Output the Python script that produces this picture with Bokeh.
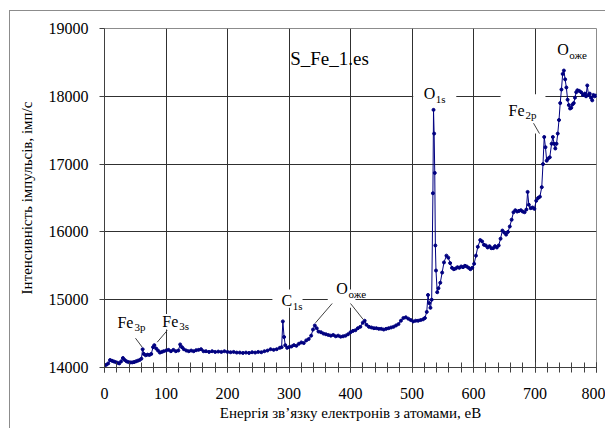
from bokeh.plotting import figure
from bokeh.models import Label, Arrow, BoxAnnotation, FixedTicker, Range1d
from bokeh.embed import file_html
from bokeh.resources import INLINE

# ---- data ----
energy = [0, 3, 6, 9, 12, 15, 18, 21, 24, 27, 30, 33, 36, 39, 42, 45, 48, 51, 54, 57,
          60, 62, 64, 67, 70, 73, 76, 79, 81, 84, 87, 90, 93, 96, 100, 104, 108, 112, 116, 120,
          123, 126, 129, 133, 137, 141, 145, 149, 153, 157, 161, 165, 170, 175, 180, 185, 190, 195, 200, 205,
          210, 215, 220, 225, 230, 235, 240, 245, 250, 255, 260, 265, 270, 275, 280, 285, 288, 290, 292, 294,
          297, 300, 304, 308, 312, 316, 320, 324, 328, 332, 336, 339, 342, 345, 348, 352, 356, 360, 364, 368,
          372, 376, 380, 384, 388, 392, 396, 400, 404, 408, 412, 416, 420, 423, 426, 430, 434, 438, 442, 446,
          450, 454, 458, 462, 466, 470, 474, 478, 482, 486, 490, 494, 498, 502, 506, 510, 514, 518, 521, 524,
          526, 528, 530, 532, 534, 535, 536, 537, 538, 539, 541, 543, 546, 549, 552, 556, 559, 562, 565, 568,
          571, 574, 577, 580, 583, 586, 589, 592, 595, 598, 601, 604, 607, 611, 614, 617, 620, 623, 626, 629,
          632, 635, 638, 641, 644, 647, 650, 653, 656, 659, 662, 665, 668, 671, 674, 677, 680, 683, 686, 688,
          690, 693, 696, 699, 702, 705, 708, 711, 713, 715, 717, 719, 721, 724, 727, 729, 731, 733, 735, 737,
          739, 741, 743, 745, 747, 749, 751, 753, 755, 757, 759, 761, 763, 765, 767, 769, 772, 775, 778, 781,
          783, 785, 787, 789, 791, 793, 795, 797, 799]
counts = [14030, 14040, 14060, 14110, 14100, 14090, 14080, 14070, 14060, 14090, 14140, 14110, 14090, 14080, 14075, 14075, 14080, 14090, 14100, 14110,
          14130, 14270, 14200, 14180, 14190, 14185, 14200, 14300, 14330, 14280, 14250, 14220, 14230, 14240, 14250, 14260, 14240, 14260, 14240, 14250,
          14340, 14300, 14270, 14250, 14240, 14250, 14240, 14255, 14260, 14270, 14240, 14240, 14230, 14240, 14230, 14235, 14230, 14240, 14230, 14225,
          14230, 14220, 14220, 14215, 14220, 14215, 14225, 14220, 14230, 14225, 14240, 14250, 14270, 14260, 14270, 14290, 14300, 14680, 14450, 14330,
          14290, 14300, 14310, 14330, 14320, 14350, 14370, 14360, 14400, 14420, 14470, 14560, 14620, 14580, 14530, 14520, 14500, 14490, 14480, 14470,
          14480, 14460, 14470, 14455, 14460, 14470, 14490, 14520, 14540, 14550, 14580, 14600, 14660, 14690, 14630, 14600, 14590, 14580, 14580, 14570,
          14570, 14560, 14570, 14580, 14590, 14600, 14620, 14640, 14690, 14730, 14740, 14720, 14700, 14680, 14690, 14690, 14700, 14710, 14730, 14820,
          15070, 14950, 14880, 15000, 16570, 17800, 17450, 16870, 15800, 15430, 15110, 15170, 15250, 15400, 15550, 15650, 15620, 15540, 15470, 15450,
          15460, 15480, 15470, 15490, 15480, 15500, 15490, 15470, 15450, 15470, 15530, 15650, 15780, 15880, 15860, 15810, 15800, 15770, 15790, 15760,
          15760, 15790, 15770, 15800, 15900, 16020, 15990, 15960, 16000, 16080, 16180, 16290, 16320, 16300, 16310, 16320, 16300, 16290, 16330, 16590,
          16400, 16350, 16360, 16340, 16460, 16500, 16520, 16660, 17000, 17400, 17250, 17050, 17080, 17100, 17300, 17400, 17300, 17230, 17300, 17450,
          17650, 17900, 18100, 18330, 18380, 18250, 18130, 17950, 17870, 17820, 17830, 17880, 17900, 17980, 18060, 18090, 18080, 18060, 18020, 18040,
          18000, 18160, 18020, 18040, 17980, 17940, 18020, 18000, 18010]

x_ticks = [0, 100, 200, 300, 400, 500, 600, 700, 800]
x_minor_ticks = list(range(0, 801, 20))
y_ticks = [14000, 15000, 16000, 17000, 18000, 19000]

title_text = "S_Fe_1.es"
x_label = "Енергія зв’язку електронів з атомами, еВ"
y_label = "Інтенсивність імпульсів, імп/с"

# peak labels: main text, subscript, data anchor of the main text's left edge
peak_labels = [("O", "1s", 519, 18040), ("Fe", "2p", 657, 17791), ("O", "оже", 736, 18690),
               ("C", "1s", 288, 14988), ("O", "оже", 377, 15165),
               ("Fe", "3p", 21, 14668), ("Fe", "3s", 94, 14683)]

SERIF = "Liberation Serif"
NAVY = "#000080"

p = figure(width=596, height=418, x_range=Range1d(0, 800), y_range=Range1d(14000, 19000),
           output_backend="svg", toolbar_location=None,
           min_border_left=94, min_border_right=10, min_border_top=17, min_border_bottom=62)
p.styles = {"margin-left": "9px", "margin-top": "10px",
            "border-left": "1px solid #8c8c8c", "border-top": "1px solid #8c8c8c"}
p.background_fill_color = "white"
p.border_fill_color = "white"
p.outline_line_color = "#8c8c8c"

# axes
p.xaxis.ticker = FixedTicker(ticks=x_ticks, minor_ticks=x_minor_ticks)
p.yaxis.ticker = FixedTicker(ticks=y_ticks, minor_ticks=[])
for ax in (p.xaxis[0], p.yaxis[0]):
    ax.axis_line_color = "#404040"
    ax.major_tick_line_color = "#404040"
    ax.minor_tick_line_color = "#404040"
    ax.major_label_text_font = SERIF
    ax.major_label_text_font_size = "16px"
    ax.major_label_text_color = "black"
    ax.axis_label_text_font = SERIF
    ax.axis_label_text_font_size = "15px"
    ax.axis_label_text_font_style = "normal"
    ax.axis_label_text_color = "black"
p.xaxis.major_tick_in = 5
p.xaxis.major_tick_out = 5
p.xaxis.minor_tick_in = 5
p.xaxis.minor_tick_out = 5
p.xaxis.major_label_standoff = 15
p.xaxis.axis_label = x_label
p.xaxis.axis_label_standoff = 3
p.yaxis.major_tick_in = 0
p.yaxis.major_tick_out = 5
p.yaxis.minor_tick_in = 0
p.yaxis.minor_tick_out = 0
p.yaxis.major_label_standoff = 11
p.yaxis.axis_label = y_label
p.yaxis.axis_label_standoff = 11

p.xgrid.grid_line_color = "#303030"
p.ygrid.grid_line_color = "#303030"
p.xgrid.grid_line_width = 1
p.ygrid.grid_line_width = 1

# white boxes where the labels interrupt the grid
for l, r, b, t in [(502, 572, 17850, 18150), (644, 717, 17450, 18030),
                   (273, 322, 14880, 15150), (363, 408, 14880, 15150),
                   (15, 50, 14560, 14760), (90, 128, 14560, 14790)]:
    p.add_layout(BoxAnnotation(left=l, right=r, bottom=b, top=t, fill_color="white",
                               fill_alpha=1, line_color=None, level="underlay"))

p.line(energy, counts, line_color=NAVY, line_width=1)
p.scatter(energy, counts, marker="circle", size=3, color=NAVY)

p.add_layout(Label(x=302, y=18558, text=title_text, text_font=SERIF, text_font_size="19px",
                   text_baseline="middle", text_align="left", text_color="black"))

main_width = {"O": 11.6, "C": 10.7, "Fe": 16.5}
for main, sub, x, y in peak_labels:
    p.add_layout(Label(x=x, y=y, text=main, text_font=SERIF, text_font_size="16px",
                       text_baseline="middle", text_align="left", text_color="black"))
    p.add_layout(Label(x=x, y=y, x_offset=main_width[main] + 0.5, y_offset=-5, text=sub,
                       text_font=SERIF, text_font_size="11px",
                       text_baseline="middle", text_align="left", text_color="black"))

for xs, ys, xe, ye in [(697.6, 17603, 707.3, 17450), (370.2, 14944, 343.1, 14659),
                       (400, 14944, 420.7, 14708), (50.4, 14432, 61.3, 14300),
                       (102, 14546, 85.7, 14373)]:
    p.add_layout(Arrow(end=None, start=None, x_start=xs, y_start=ys, x_end=xe, y_end=ye,
                       line_color="#404040", line_width=1))

open("out.html", "w").write(file_html(p, INLINE))
